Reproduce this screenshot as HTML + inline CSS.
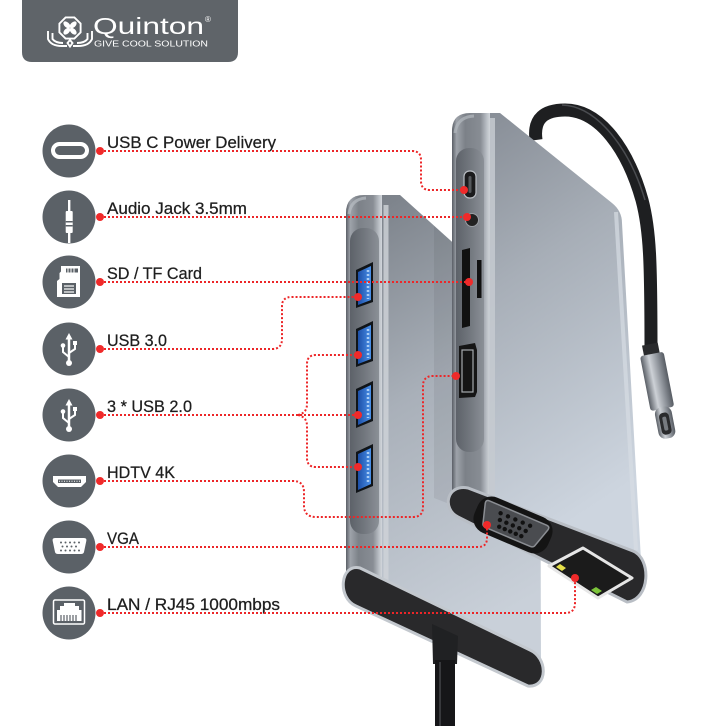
<!DOCTYPE html>
<html><head><meta charset="utf-8">
<style>
html,body{margin:0;padding:0;background:#fff;}
svg{display:block;}
text{font-family:"Liberation Sans",Arial,sans-serif;}
</style></head><body>
<svg width="726" height="726" viewBox="0 0 726 726" xmlns="http://www.w3.org/2000/svg">
<defs>
 <linearGradient id="gFaceA" x1="0" y1="0" x2="0.25" y2="1">
  <stop offset="0" stop-color="#868c95"/>
  <stop offset="0.4" stop-color="#a7aeb7"/>
  <stop offset="1" stop-color="#cdd5df"/>
 </linearGradient>
 <linearGradient id="gFaceB" x1="0" y1="0" x2="0.2" y2="1">
  <stop offset="0" stop-color="#7b8189"/>
  <stop offset="0.45" stop-color="#a9b0b9"/>
  <stop offset="1" stop-color="#c9d0d9"/>
 </linearGradient>
 <linearGradient id="gStrip" x1="0" y1="0" x2="1" y2="0">
  <stop offset="0" stop-color="#5a5f66"/>
  <stop offset="0.12" stop-color="#9ea3aa"/>
  <stop offset="0.35" stop-color="#7c8188"/>
  <stop offset="0.75" stop-color="#888d94"/>
  <stop offset="0.92" stop-color="#bcc1c7"/>
  <stop offset="1" stop-color="#d2d6db"/>
 </linearGradient>
 <linearGradient id="gRecess" x1="0" y1="0" x2="1" y2="0">
  <stop offset="0" stop-color="#5d6269"/>
  <stop offset="0.5" stop-color="#72777e"/>
  <stop offset="1" stop-color="#8b9097"/>
 </linearGradient>
 <linearGradient id="gMetal" x1="0" y1="0" x2="1" y2="0">
  <stop offset="0" stop-color="#5a5f66"/>
  <stop offset="0.35" stop-color="#cdd1d6"/>
  <stop offset="0.7" stop-color="#8d9299"/>
  <stop offset="1" stop-color="#565b62"/>
 </linearGradient>
 <linearGradient id="gBlue" x1="0" y1="0" x2="1" y2="0">
  <stop offset="0" stop-color="#1c4fa8"/>
  <stop offset="1" stop-color="#4a90e8"/>
 </linearGradient>
</defs>

<!-- Logo -->
<path d="M22,0 L238,0 L238,52 Q238,62 228,62 L32,62 Q22,62 22,52 Z" fill="#5f6469"/>
<g stroke="#fff" fill="none" stroke-width="1.9">
 <polygon points="80.6,23.6 74.4,17.4 65.6,17.4 59.4,23.6 59.4,32.4 65.6,38.6 74.4,38.6 80.6,32.4"/>
 <path d="M48,31 L48,39 Q51,46 62,46 L67,46"/>
 <path d="M52.5,33 L52.5,39 Q55.5,43 63,43"/>
 <path d="M92,31 L92,39 Q89,46 78,46 L73,46"/>
 <path d="M87.5,33 L87.5,39 Q84.5,43 77,43"/>
 <path d="M70,40 L67.5,43 L70,46.5 L72.5,43 Z"/>
</g>
<g transform="translate(70,28)" fill="#fff">
 <ellipse cx="0" cy="-4.5" rx="2.5" ry="4.2" transform="rotate(45)"/>
 <ellipse cx="0" cy="-4.5" rx="2.5" ry="4.2" transform="rotate(135)"/>
 <ellipse cx="0" cy="-4.5" rx="2.5" ry="4.2" transform="rotate(225)"/>
 <ellipse cx="0" cy="-4.5" rx="2.5" ry="4.2" transform="rotate(315)"/>
</g>
<text x="93" y="34" font-size="23" fill="#fff" textLength="111" lengthAdjust="spacingAndGlyphs">Quinton</text>
<text x="205" y="22" font-size="8" fill="#fff">®</text>
<text x="94" y="46.5" font-size="8" fill="#fff" textLength="114" lengthAdjust="spacingAndGlyphs">GIVE COOL SOLUTION</text>

<!-- Top cable of device A -->
<path d="M536,140 C533,118 545,110 565,110 C600,110 628,150 642,200 C650,230 651,262 651,352" fill="none" stroke="#1e1f21" stroke-width="13"/>
<path d="M562,105 C598,106 630,150 645,200" fill="none" stroke="#4a4c50" stroke-width="1.5"/>
<g transform="translate(651,350) rotate(-11)">
 <rect x="-8" y="-6" width="16" height="12" fill="#2a2b2d"/>
 <rect x="-12" y="4" width="24" height="56" rx="3" fill="url(#gMetal)"/>
 <rect x="-8.5" y="58" width="17" height="32" rx="7" fill="url(#gMetal)"/>
 <rect x="-5" y="64" width="10" height="22" rx="4" fill="#2a2b2d"/>
 <rect x="-2" y="68" width="4" height="14" rx="1.5" fill="#777b80"/>
</g>

<!-- Device B face -->
<path d="M378,195 L400,195 L540,321 L541,668 L378,600 Z" fill="url(#gFaceB)"/>
<path d="M434,226 L452,242 L452,505 L434,498 Z" fill="#000" opacity="0.06"/>
<line x1="386" y1="205" x2="386" y2="592" stroke="#d0d4d9" stroke-width="5" opacity="0.8"/>
<!-- Device B strip -->
<path d="M346,596 L346,213 Q346,195 364,195 L382,195 L382,600 Z" fill="url(#gStrip)"/>
<rect x="350" y="228" width="29" height="306" rx="13" fill="url(#gRecess)"/>
<path d="M349,214 Q351,199 366,198" fill="none" stroke="#b8bdc3" stroke-width="3" opacity="0.7"/>
<!-- USB ports -->
<g>
 <path d="M356,270 L373,262 L373,302 L356,308 Z" fill="#101418"/>
 <path d="M358,272 L371,266 L371,300 L358,305 Z" fill="url(#gBlue)"/>
 <line x1="368" y1="270" x2="368" y2="299" stroke="#a8ccf5" stroke-width="2.5" stroke-dasharray="2 2"/>
 <path d="M356,329 L373,321 L373,361 L356,367 Z" fill="#101418"/>
 <path d="M358,331 L371,325 L371,359 L358,364 Z" fill="url(#gBlue)"/>
 <line x1="368" y1="329" x2="368" y2="358" stroke="#a8ccf5" stroke-width="2.5" stroke-dasharray="2 2"/>
 <path d="M356,389 L373,381 L373,421 L356,428 Z" fill="#101418"/>
 <path d="M358,391 L371,385 L371,419 L358,425 Z" fill="url(#gBlue)"/>
 <line x1="368" y1="389" x2="368" y2="418" stroke="#a8ccf5" stroke-width="2.5" stroke-dasharray="2 2"/>
 <path d="M356,452 L373,444 L373,486 L356,493 Z" fill="#101418"/>
 <path d="M358,454 L371,448 L371,484 L358,490 Z" fill="url(#gBlue)"/>
 <line x1="368" y1="452" x2="368" y2="483" stroke="#a8ccf5" stroke-width="2.5" stroke-dasharray="2 2"/>
</g>
<!-- Device B end cap -->
<path d="M360,568 L530,650 C548,658 548,688 528,686 L356,606 C337,598 340,563 360,568 Z" fill="#29292b" stroke="#c3c8ce" stroke-width="3"/>
<!-- B cable -->
<path d="M432,624 L458,636 L457,664 L433,664 Z" fill="#202123"/>
<rect x="435" y="660" width="20" height="70" fill="#161618"/>
<line x1="440" y1="662" x2="440" y2="726" stroke="#38393c" stroke-width="2"/>

<!-- Device A face -->
<path d="M488,113 L500,113 L612,203 Q622,211 622,223 L641,560 L470,497 L490,497 Z" fill="url(#gFaceA)"/>
<line x1="492" y1="118" x2="492" y2="495" stroke="#c6cbd1" stroke-width="6" opacity="0.85"/>
<line x1="616" y1="212" x2="636" y2="550" stroke="#d7dde4" stroke-width="4" opacity="0.7"/>
<!-- Device A strip -->
<path d="M452,500 L452,131 Q452,113 470,113 L490,113 L489,500 Z" fill="url(#gStrip)"/>
<rect x="456" y="148" width="28" height="304" rx="13" fill="url(#gRecess)"/>
<path d="M455,133 Q457,117 474,116" fill="none" stroke="#b4b9bf" stroke-width="3" opacity="0.7"/>
<!-- A ports -->
<rect x="464" y="171" width="12" height="27" rx="5.5" fill="#1b1b1d" stroke="#b8bcc2" stroke-width="1.2"/>
<rect x="468.5" y="176" width="3" height="17" rx="1.5" fill="#55585c"/>
<circle cx="472" cy="220" r="6.5" fill="#222" stroke="#9a9ea4" stroke-width="1"/>
<path d="M462,250 L470,248 L470,326 L462,328 Z" fill="#111"/>
<rect x="477" y="260" width="4.5" height="38" fill="#111"/>
<path d="M459,346 L475,343 L477,350 L477,392 L475,397 L459,398 Z" fill="#151515"/>
<rect x="462" y="350" width="11" height="42" fill="none" stroke="#a5a9ae" stroke-width="1.2"/>
<!-- Device A end cap -->
<path d="M468,488 L633,551 C652,559 650,600 627,602 L458,517 C442,509 446,484 468,488 Z" fill="#29292b" stroke="#b9bec5" stroke-width="3"/>
<g transform="translate(513,525) rotate(23)">
 <rect x="-40" y="-19" width="80" height="38" rx="15" fill="#141414"/>
 <path d="M-31,-13 L31,-13 Q35,-13 34,-9 L28,11 Q27,13 24,13 L-24,13 Q-27,13 -28,11 L-34,-9 Q-35,-13 -31,-13 Z" fill="#4a4c50" stroke="#8a8d92" stroke-width="1.5"/>
 <g fill="#111">
  <circle cx="-16" cy="-6" r="2.2"/><circle cx="-8" cy="-6" r="2.2"/><circle cx="0" cy="-6" r="2.2"/><circle cx="8" cy="-6" r="2.2"/><circle cx="16" cy="-6" r="2.2"/>
  <circle cx="-14" cy="0.5" r="2.2"/><circle cx="-7" cy="0.5" r="2.2"/><circle cx="0" cy="0.5" r="2.2"/><circle cx="7" cy="0.5" r="2.2"/><circle cx="14" cy="0.5" r="2.2"/>
  <circle cx="-12" cy="7" r="2.2"/><circle cx="-6" cy="7" r="2.2"/><circle cx="0" cy="7" r="2.2"/><circle cx="6" cy="7" r="2.2"/><circle cx="12" cy="7" r="2.2"/>
 </g>
</g>
<polygon points="549,566 583,548 632,578 598,598" fill="#1b1b1b" stroke="#e6e6e6" stroke-width="3" stroke-linejoin="round"/>
<polygon points="556,567 560,564 566,568 562,571" fill="#e6e04a"/>
<polygon points="591,590 596,587 602,591 597,594" fill="#7cc43a"/>

<!-- Left icon circles -->
<g fill="#5b6167">
 <circle cx="69" cy="151" r="26.5"/>
 <circle cx="69" cy="217" r="26.5"/>
 <circle cx="69" cy="282" r="26.5"/>
 <circle cx="69" cy="349" r="26.5"/>
 <circle cx="69" cy="415" r="26.5"/>
 <circle cx="69" cy="481" r="26.5"/>
 <circle cx="69" cy="547" r="26.5"/>
 <circle cx="69" cy="613" r="26.5"/>
</g>
<!-- USB C icon -->
<rect x="53" y="144" width="34" height="13" rx="6.5" fill="none" stroke="#fff" stroke-width="4"/>
<!-- Audio icon -->
<g fill="#fff">
 <rect x="68" y="200" width="2.4" height="12"/>
 <rect x="65.7" y="211" width="7" height="22" rx="1"/>
 <rect x="65.7" y="221" width="7" height="1.5" fill="#5b6167"/>
 <rect x="65.7" y="225" width="7" height="1.5" fill="#5b6167"/>
 <rect x="68" y="233" width="2.4" height="10"/>
</g>
<!-- SD icon -->
<path d="M61,266 L80,266 L80,297 L57,297 L57,281 L59.5,279 L59.5,273 L61,271.5 Z" fill="#fff"/>
<rect x="66" y="268.5" width="12" height="4" fill="#5b6167"/>
<g stroke="#fff" stroke-width="1"><line x1="68" y1="268.5" x2="68" y2="272.5"/><line x1="71" y1="268.5" x2="71" y2="272.5"/><line x1="74" y1="268.5" x2="74" y2="272.5"/></g>
<rect x="62" y="283" width="14" height="11" fill="#5b6167"/>
<g stroke="#fff" stroke-width="1.2"><line x1="64" y1="286" x2="74" y2="286"/><line x1="64" y1="289" x2="74" y2="289"/><line x1="64" y1="292" x2="74" y2="292"/></g>
<!-- USB tridents -->
<g fill="#fff" stroke="#fff">
 <line x1="69" y1="338" x2="69" y2="362" stroke-width="2.5"/>
 <polygon points="69,333 65.5,339.5 72.5,339.5" stroke="none"/>
 <circle cx="69" cy="363" r="3" stroke="none"/>
 <path d="M69,357 L63,352 L63,347" fill="none" stroke-width="2"/>
 <circle cx="63" cy="345.5" r="2.3" stroke="none"/>
 <path d="M69,353 L75,349 L75,345" fill="none" stroke-width="2"/>
 <rect x="73" y="341" width="4" height="4" stroke="none"/>
</g>
<g fill="#fff" stroke="#fff" transform="translate(0,66)">
 <line x1="69" y1="338" x2="69" y2="362" stroke-width="2.5"/>
 <polygon points="69,333 65.5,339.5 72.5,339.5" stroke="none"/>
 <circle cx="69" cy="363" r="3" stroke="none"/>
 <path d="M69,357 L63,352 L63,347" fill="none" stroke-width="2"/>
 <circle cx="63" cy="345.5" r="2.3" stroke="none"/>
 <path d="M69,353 L75,349 L75,345" fill="none" stroke-width="2"/>
 <rect x="73" y="341" width="4" height="4" stroke="none"/>
</g>
<!-- HDMI icon -->
<path d="M53,476 L86,476 L86,482 L81,487 L58,487 L53,482 Z" fill="#fff"/>
<rect x="58" y="479.5" width="23" height="3.5" fill="#5b6167"/>
<line x1="59" y1="481.2" x2="80" y2="481.2" stroke="#fff" stroke-width="1" stroke-dasharray="1 1.5"/>
<!-- VGA icon -->
<path d="M55,538 L84,538 Q87,538 86.3,541 L84,552 Q83.5,554 81,554 L58,554 Q55.5,554 55,552 L52.7,541 Q52,538 55,538 Z" fill="#fff"/>
<g fill="#5b6167">
 <circle cx="61" cy="542.5" r="1"/><circle cx="65.5" cy="542.5" r="1"/><circle cx="70" cy="542.5" r="1"/><circle cx="74.5" cy="542.5" r="1"/><circle cx="79" cy="542.5" r="1"/>
 <circle cx="62.5" cy="546.5" r="1"/><circle cx="67" cy="546.5" r="1"/><circle cx="71.5" cy="546.5" r="1"/><circle cx="76" cy="546.5" r="1"/>
 <circle cx="61" cy="550.5" r="1"/><circle cx="65.5" cy="550.5" r="1"/><circle cx="70" cy="550.5" r="1"/><circle cx="74.5" cy="550.5" r="1"/><circle cx="79" cy="550.5" r="1"/>
</g>
<!-- LAN icon -->
<rect x="53.5" y="600" width="31" height="24" rx="1.5" fill="none" stroke="#fff" stroke-width="1.5"/>
<path d="M64,603 L75,603 L75,606 L79,606 L79,610 L81.5,610 L81.5,621 L57,621 L57,610 L60,610 L60,606 L64,606 Z" fill="#fff"/>
<g stroke="#5b6167" stroke-width="1.2"><line x1="61" y1="615" x2="61" y2="621"/><line x1="64" y1="615" x2="64" y2="621"/><line x1="67" y1="615" x2="67" y2="621"/><line x1="70" y1="615" x2="70" y2="621"/><line x1="73" y1="615" x2="73" y2="621"/><line x1="76" y1="615" x2="76" y2="621"/></g>

<!-- Labels -->
<g font-size="16.5" fill="#1e1e1e" stroke="#1e1e1e" stroke-width="0.25">
 <text x="107" y="148" textLength="169" lengthAdjust="spacingAndGlyphs">USB C Power Delivery</text>
 <text x="107" y="214" textLength="140" lengthAdjust="spacingAndGlyphs">Audio Jack 3.5mm</text>
 <text x="107" y="279" textLength="95" lengthAdjust="spacingAndGlyphs">SD / TF Card</text>
 <text x="107" y="346" textLength="60" lengthAdjust="spacingAndGlyphs">USB 3.0</text>
 <text x="107" y="412" textLength="85" lengthAdjust="spacingAndGlyphs">3 * USB 2.0</text>
 <text x="107" y="478" textLength="68" lengthAdjust="spacingAndGlyphs">HDTV 4K</text>
 <text x="107" y="544" textLength="32" lengthAdjust="spacingAndGlyphs">VGA</text>
 <text x="107" y="610" textLength="173" lengthAdjust="spacingAndGlyphs">LAN / RJ45 1000mbps</text>
</g>

<!-- Dotted connectors -->
<g fill="none" stroke="#ec2628" stroke-width="2" stroke-dasharray="2 2">
 <path d="M100,151 L412,151 Q421,151 421,160 L421,181 Q421,190 430,190 L464,190"/>
 <path d="M100,217 L467,217"/>
 <path d="M100,282 L469,282"/>
 <path d="M100,349 L272,349 Q282,349 282,339 L282,306 Q282,297 292,297 L358,297"/>
 <path d="M100,415 L358,415"/>
 <path d="M298,415 Q307,413 307,404 L307,364 Q307,355 316,355 L358,355"/>
 <path d="M298,415 Q307,417 307,426 L307,458 Q307,467 316,467 L358,467"/>
 <path d="M100,481 L293,481 Q304,481 304,492 L304,507 Q305,517 316,517 L413,517 Q423,517 423,507 L423,386 Q423,376 433,376 L456,376"/>
 <path d="M100,547 L478,547 Q487,547 487,538 L487,525"/>
 <path d="M100,613 L565,613 Q575,613 575,603 L575,578"/>
</g>
<!-- Red dots -->
<g fill="#f02a2a">
 <circle cx="100" cy="151" r="4"/><circle cx="100" cy="217" r="4"/><circle cx="100" cy="282" r="4"/><circle cx="100" cy="349" r="4"/>
 <circle cx="100" cy="415" r="4"/><circle cx="100" cy="481" r="4"/><circle cx="100" cy="547" r="4"/><circle cx="100" cy="613" r="4"/>
 <circle cx="464" cy="190" r="4"/><circle cx="467" cy="217" r="4"/><circle cx="469" cy="282" r="4"/>
 <circle cx="358" cy="297" r="4"/><circle cx="358" cy="355" r="4"/><circle cx="358" cy="415" r="4"/><circle cx="358" cy="467" r="4"/>
 <circle cx="456" cy="376" r="4"/><circle cx="487" cy="525" r="4"/><circle cx="575" cy="578" r="4"/>
</g>
</svg>
</body></html>
